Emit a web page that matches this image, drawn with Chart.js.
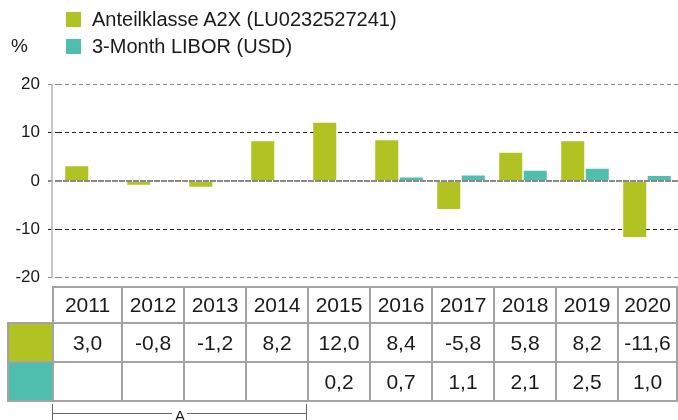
<!DOCTYPE html>
<html lang="de">
<head>
<meta charset="utf-8">
<script src="https://cdn.jsdelivr.net/npm/chart.js@4.4.1/dist/chart.umd.min.js"></script>
<style>
  html, body { margin: 0; padding: 0; background: #fff; }
  body { width: 678px; height: 420px; position: relative; overflow: hidden;
         font-family: "Liberation Sans", Arial, sans-serif; color: #1a1a1a; }
  #wrap { position: absolute; left: 0; top: 0; width: 678px; height: 296px; }
  #unit { position: absolute; left: 11px; top: 35px; font-size: 19px; }
  #legend { position: absolute; left: 66px; top: 6px; }
  #legend .item { height: 27px; display: flex; align-items: center; font-size: 20px; }
  #legend .box { width: 15px; height: 15px; margin-right: 11px; }
  #tabelle { position: absolute; left: 7px; top: 286px; border-collapse: collapse; table-layout: fixed; }
  #tabelle td { border: 2px solid #a3a3a3; text-align: center; font-size: 21px; padding: 0; }
  #tabelle tr.kopf td { height: 34px; }
  #tabelle tr.werte td { height: 37px; }
  #tabelle td.leer { border: none; }
  #klammer { position: absolute; left: 52px; top: 404px; width: 255px; height: 16px; }
  #klammer .linie { position: absolute; top: 9px; height: 1px; background: #666; }
  #klammer .tick { position: absolute; top: 0; width: 1px; height: 16px; background: #666; }
  #klammer .label { position: absolute; left: 123px; top: 3px; font-size: 15px; }
</style>
</head>
<body>
<div id="wrap"><canvas id="chart"></canvas></div>
<div id="unit">%</div>
<div id="legend"></div>
<table id="tabelle"></table>
<div id="klammer">
  <div class="tick" style="left:0"></div>
  <div class="linie" style="left:0;width:120px"></div>
  <div class="label">A</div>
  <div class="linie" style="left:135px;width:120px"></div>
  <div class="tick" style="left:254px"></div>
</div>
<script>
// Daten aus der Grafik
const jahre = ['2011', '2012', '2013', '2014', '2015', '2016', '2017', '2018', '2019', '2020'];
const anteilklasse = [3.0, -0.8, -1.2, 8.2, 12.0, 8.4, -5.8, 5.8, 8.2, -11.6];
const libor = [null, null, null, null, 0.2, 0.7, 1.1, 2.1, 2.5, 1.0];
const yTicks = [-20, -10, 0, 10, 20];

const GRUEN = 'rgb(177, 195, 35)';
const TUERKIS = 'rgb(80, 190, 174)';
const STRICH = [4, 3];

Chart.defaults.font.family = '"Liberation Sans", Arial, sans-serif';
Chart.defaults.color = '#1a1a1a';

const fmt = (v) => v === null ? '' : v.toFixed(1).replace('.', ',');
const linienFarbe = (c) => Math.abs(c.tick.value) === 10 ? '#222' : '#8a8a8a';

// Nulllinie ueber die Balken und Achsenlinie links
const extraLinien = {
    id: 'extraLinien',
    afterDatasetsDraw(chart) {
        const { ctx, chartArea, scales: { y } } = chart;
        const y0 = y.getPixelForValue(0);
        ctx.save();
        ctx.strokeStyle = '#8a8a8a';
        ctx.lineWidth = 2;
        ctx.setLineDash(STRICH);
        ctx.beginPath();
        ctx.moveTo(chartArea.left - 9, y0);
        ctx.lineTo(chartArea.right, y0);
        ctx.stroke();
        ctx.setLineDash([]);
        ctx.strokeStyle = '#b5b5b5';
        ctx.lineWidth = 1.5;
        ctx.beginPath();
        ctx.moveTo(chartArea.left - 6, y.getPixelForValue(20));
        ctx.lineTo(chartArea.left - 6, y.getPixelForValue(-20));
        ctx.stroke();
        ctx.restore();
    }
};

const chart = new Chart(document.getElementById('chart'), {
    type: 'bar',
    data: {
        labels: jahre,
        datasets: [
            { label: 'Anteilklasse A2X (LU0232527241)', data: anteilklasse, backgroundColor: GRUEN },
            { label: '3-Month LIBOR (USD)', data: libor, backgroundColor: TUERKIS }
        ]
    },
    options: {
        responsive: true,
        maintainAspectRatio: false,
        animation: false,
        layout: { padding: { top: 84, bottom: 3, right: 0 } },
        datasets: { bar: { categoryPercentage: 0.79, barPercentage: 0.94 } },
        plugins: { legend: { display: false }, tooltip: { enabled: false } },
        scales: {
            x: { display: false },
            y: {
                min: -20, max: 20,
                afterFit: (s) => { s.width = 58; },
                afterBuildTicks: (s) => { s.ticks = yTicks.map(v => ({ value: v })); },
                border: { display: false, dash: STRICH },
                ticks: { font: { size: 17 }, padding: 8 },
                grid: {
                    tickLength: 10,
                    color: linienFarbe,
                    lineWidth: (c) => c.tick.value === 0 ? 2 : 1,
                    borderDash: STRICH,
                    tickBorderDash: STRICH,
                    tickColor: linienFarbe
                }
            }
        }
    },
    plugins: [extraLinien]
});

// Legende aus den Datensaetzen
document.getElementById('legend').innerHTML = chart.data.datasets.map(ds =>
    `<div class="item"><span class="box" style="background:${ds.backgroundColor}"></span>${ds.label}</div>`
).join('');

// Tabelle unter dem Diagramm
const breiten = [45, 69, 62, 62, 62, 62, 62, 62, 62, 62, 59];
const tabelle = document.getElementById('tabelle');
tabelle.innerHTML =
    '<colgroup>' + breiten.map(b => `<col style="width:${b}px">`).join('') + '</colgroup>' +
    '<tr class="kopf"><td class="leer"></td>' + jahre.map(j => `<td>${j}</td>`).join('') + '</tr>' +
    `<tr class="werte"><td style="background:${GRUEN}"></td>` + anteilklasse.map(v => `<td>${fmt(v)}</td>`).join('') + '</tr>' +
    `<tr class="werte"><td style="background:${TUERKIS}"></td>` + libor.map(v => `<td>${fmt(v)}</td>`).join('') + '</tr>';
</script>
</body>
</html>
